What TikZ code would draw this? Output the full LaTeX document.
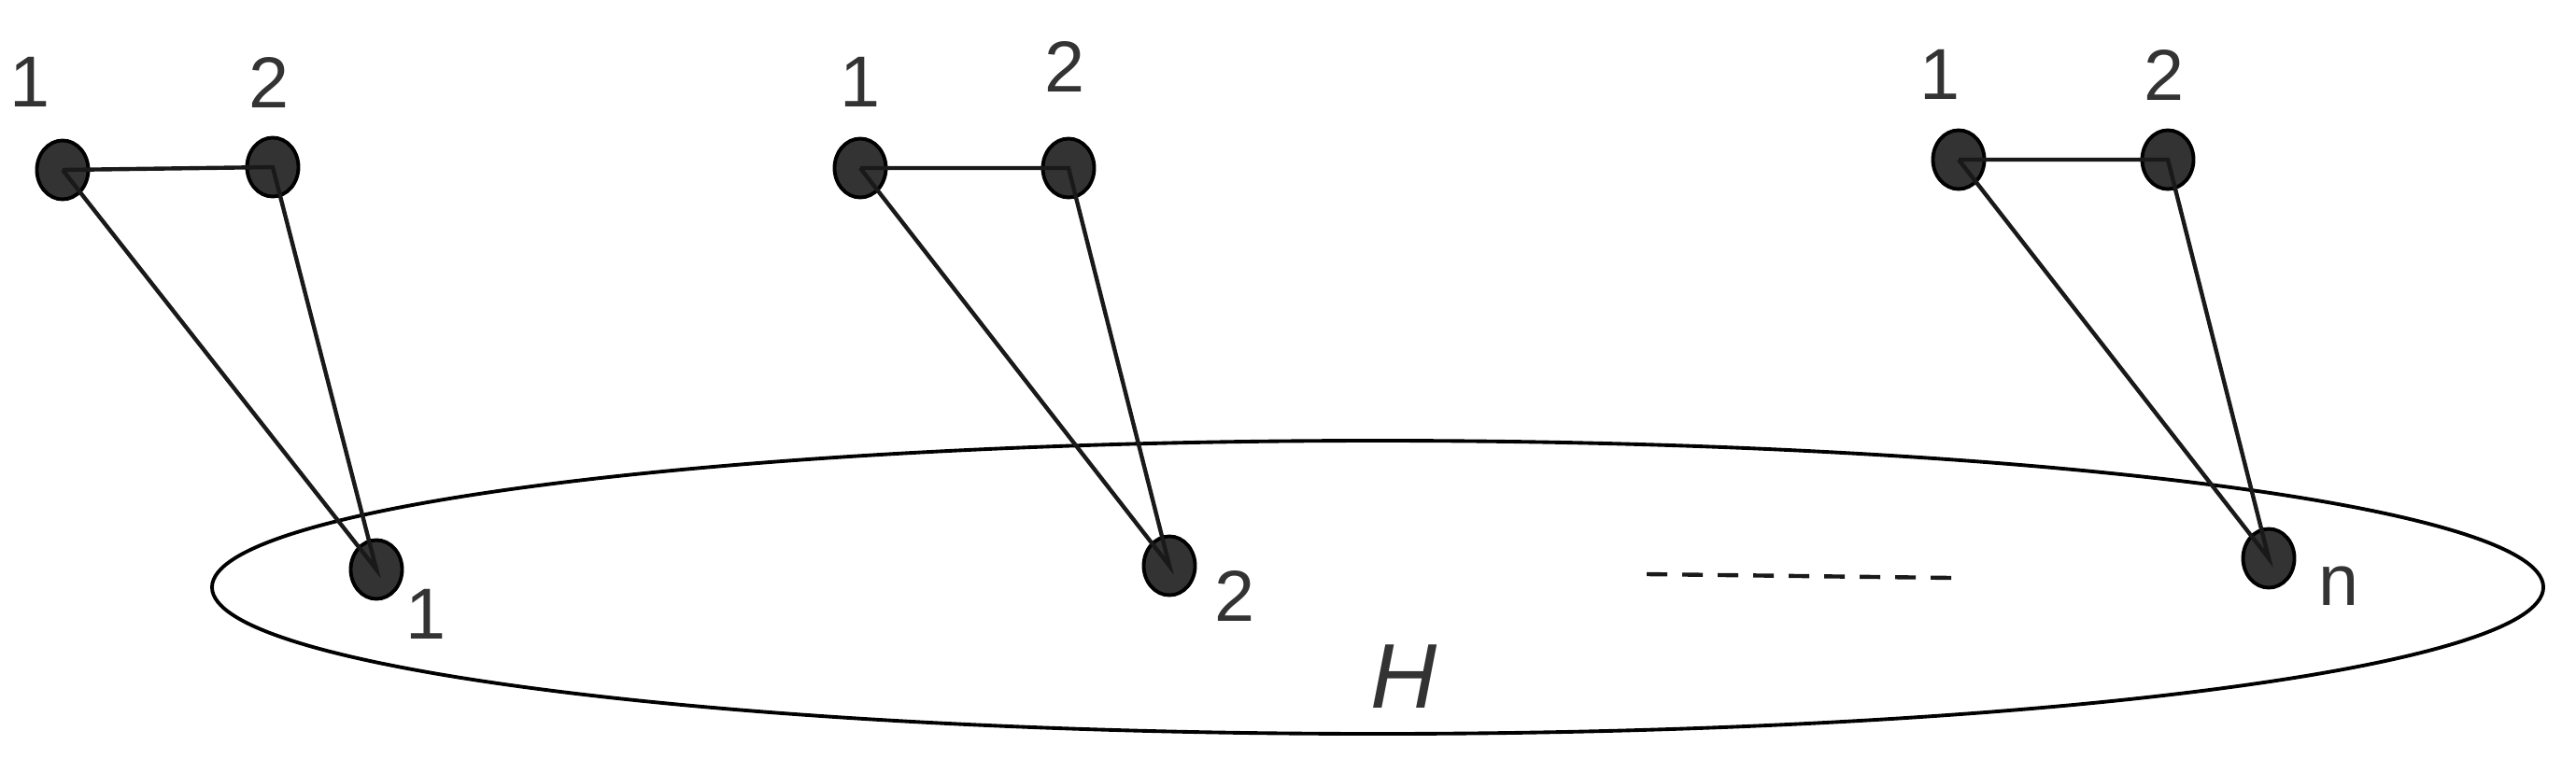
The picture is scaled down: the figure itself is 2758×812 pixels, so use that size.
\documentclass[tikz,border=0pt]{standalone}
\usepackage{fontspec}
\setmainfont{Liberation Sans}
\usetikzlibrary{shapes.geometric}

\begin{document}
\begin{tikzpicture}[x=0.01cm,y=-0.01cm,
  vtx/.style={ellipse,draw=black,fill=black!80,line width=1.1pt,minimum width=0.55cm,minimum height=0.63cm,inner sep=0pt},
  lbl/.style={text=black!80,font=\fontsize{22}{26}\selectfont,inner sep=0pt},
  edge/.style={line width=1.25pt,black!90}]
\useasboundingbox (0,0) rectangle (2758,812);
\draw[line width=1.1pt] (1475,629) ellipse [x radius=1248,y radius=157];

% first copy
\node[vtx] (a1) at (67,182) {};
\node[vtx] (a2) at (292,179) {};
\node[vtx] (h1) at (403,610) {};
\node[lbl] (la1) at (32,88) {1};
\node[lbl] (la2) at (288,88) {2};
\node[lbl] (lh1) at (456,658) {1};
\draw[edge] (a1.center) -- (a2.center) -- (h1.center) -- (a1.center);

% second copy
\node[vtx] (b1) at (921,180) {};
\node[vtx] (b2) at (1144,180) {};
\node[vtx] (h2) at (1252,606) {};
\node[lbl] (lb1) at (921,88) {1};
\node[lbl] (lb2) at (1140,71) {2};
\node[lbl] (lh2) at (1322,638) {2};
\draw[edge] (b1.center) -- (b2.center) -- (h2.center) -- (b1.center);

% last copy
\node[vtx] (c1) at (2097,171) {};
\node[vtx] (c2) at (2321,171) {};
\node[vtx] (hn) at (2429,598) {};
\node[lbl] (lc1) at (2077,80) {1};
\node[lbl] (lc2) at (2317,80) {2};
\node[lbl] (lhn) at (2504,628) {n};
\draw[edge] (c1.center) -- (c2.center) -- (hn.center) -- (c1.center);

\coordinate (d1) at (1763,615);
\coordinate (d2) at (2089,619);
\draw[edge,dash pattern=on 0.22cm off 0.16cm] (d1) -- (d2);
\node[lbl,font=\fontsize{28}{32}\selectfont\itshape] (H) at (1503,725) {H};
\end{tikzpicture}
\end{document}
